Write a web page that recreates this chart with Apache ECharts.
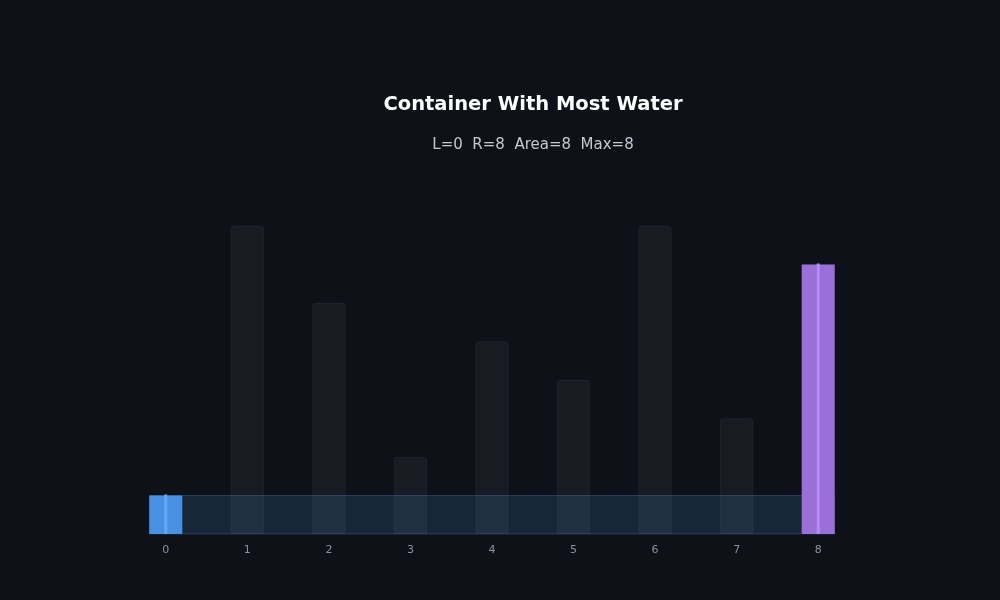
<!DOCTYPE html>
<html>
<head>
<meta charset="utf-8">
<script src="https://cdn.jsdelivr.net/npm/echarts@6/dist/echarts.min.js"></script>
<style>
  html, body { margin: 0; padding: 0; background: #0e1117; }
  #chart { width: 1000px; height: 600px; }
</style>
</head>
<body>
<div id="chart"></div>
<script>
// heights of the walls
var categories = ["0", "1", "2", "3", "4", "5", "6", "7", "8"];
var heights = [1, 8, 6, 2, 5, 4, 8, 3, 7];
// current two pointers
var leftIdx = 0;
var rightIdx = 8;
var area = 8;
var maxArea = 8;

var waterLevel = Math.min(heights[leftIdx], heights[rightIdx]);

var myChart = echarts.init(document.getElementById("chart"));

// colored bars only at L and R
var activeData = heights.map(function (h, i) {
  if (i === leftIdx) return { value: h, itemStyle: { color: "#4a90e2" } };
  if (i === rightIdx) return { value: h, itemStyle: { color: "#9a6fd8" } };
  return null;
});

var option = {
  backgroundColor: "#0e1117",
  animation: false,
  title: {
    text: "Container With Most Water",
    subtext: "L=" + leftIdx + "  R=" + rightIdx + "  Area=" + area + "  Max=" + maxArea,
    left: 528,
    top: 90,
    textAlign: "center",
    itemGap: 23,
    textStyle: {
      color: "#ffffff",
      fontSize: 19.5,
      fontWeight: "bold",
      fontFamily: "DejaVu Sans"
    },
    subtextStyle: {
      color: "#c4c9d0",
      fontSize: 15,
      fontFamily: "DejaVu Sans"
    }
  },
  grid: {
    left: 125,
    right: 141,
    top: 226,
    bottom: 66
  },
  xAxis: {
    type: "category",
    data: categories,
    axisLine: { show: false },
    axisTick: { show: false },
    axisLabel: {
      color: "#8b929c",
      fontSize: 11,
      fontFamily: "DejaVu Sans",
      margin: 11
    },
    splitLine: { show: false }
  },
  yAxis: {
    type: "value",
    min: 0,
    max: 8,
    show: false
  },
  series: [
    {
      name: "walls",
      type: "bar",
      data: heights,
      barWidth: 33,
      z: 1,
      itemStyle: {
        color: "#181b22",
        borderColor: "#1f232b",
        borderWidth: 1,
        borderRadius: [2, 2, 0, 0]
      }
    },
    {
      // water between the two pointers
      name: "water",
      type: "custom",
      z: 3,
      data: [[leftIdx, rightIdx, waterLevel]],
      renderItem: function (params, api) {
        var p0 = api.coord([api.value(0), 0]);
        var p1 = api.coord([api.value(1), api.value(2)]);
        var half = api.size([1, 0])[0] * 0.2;
        var x0 = p0[0] - half;
        var x1 = p1[0] + half;
        return {
          type: "rect",
          shape: { x: x0, y: p1[1], width: x1 - x0, height: p0[1] - p1[1] },
          style: {
            fill: "rgba(72,140,215,0.18)",
            stroke: "rgba(80,140,210,0.3)",
            lineWidth: 1
          }
        };
      }
    },
    {
      name: "active",
      type: "bar",
      data: activeData,
      barWidth: 33,
      barGap: "-100%",
      z: 5
    },
    {
      // pointer lines in the middle of the active bars
      name: "pointers",
      type: "custom",
      z: 6,
      data: [[leftIdx, heights[leftIdx], 0], [rightIdx, heights[rightIdx], 1]],
      renderItem: function (params, api) {
        var bottom = api.coord([api.value(0), 0]);
        var top = api.coord([api.value(0), api.value(1)]);
        var col = api.value(2) === 0 ? "#62a8f5" : "#b58cf7";
        return {
          type: "rect",
          shape: { x: bottom[0] - 1.5, y: top[1] - 1, width: 3, height: bottom[1] - top[1] + 1 },
          style: { fill: col }
        };
      }
    }
  ]
};

myChart.setOption(option);
window.addEventListener("resize", function () {
  myChart.resize();
});
</script>
</body>
</html>
